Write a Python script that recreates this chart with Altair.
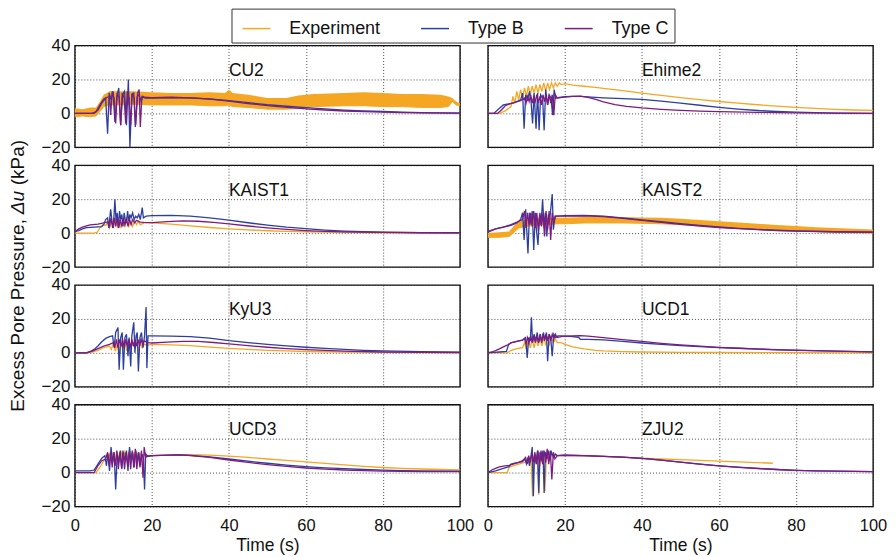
import altair as alt
import pandas as pd

PANELS = ["CU2", "Ehime2", "KAIST1", "KAIST2", "KyU3", "UCD1", "UCD3", "ZJU2"]
SERIES = ["Experiment", "Type B", "Type C"]
COLORS = ["#f5a623", "#2c3f9e", "#7e1b80"]
X_TICKS = [0, 20, 40, 60, 80, 100]
Y_TICKS = [-20, 0, 20, 40]
X_TITLE = "Time (s)"
Y_TITLE_PARTS = ["Excess Pore Pressure,", "Δu", "(kPa)"]

# ---------------- CU2 ----------------
CU2_EXP_BAND = [(0, -2, 3), (2, -1.5, 2.5), (4, -2, 3.5), (5.5, -1.5, 3.5), (6.5, 1, 7), (7.5, 4, 11),
                (9, 5, 13), (12, 5, 13), (15, 5.5, 13), (20, 5, 12.5), (25, 5, 12), (30, 5, 12),
                (35, 4.5, 12.5), (39, 4.5, 12), (40, 5, 14), (41, 4, 12), (45, 3.5, 11), (50, 2.5, 9),
                (55, 2.5, 9), (58, 3, 10.5), (62, 4, 11.5), (70, 4.5, 12), (75, 4.5, 12.5), (80, 4, 12),
                (85, 4, 11.5), (90, 3.5, 11.5), (95, 3.5, 11), (97, 4, 10), (98, 7, 9), (99, 5, 7),
                (100, 4.5, 6)]
CU2_B = [(0, 0), (5, 0), (6, 2), (7, 6), (8, 9), (8.5, -12), (8.9, 12), (9.4, 8), (9.9, 13), (10.4, -5),
         (10.9, 10), (11.4, 15), (11.9, -7), (12.4, 11), (12.9, 13), (13.4, -7), (13.9, 20), (14.3, -20),
         (14.8, 11), (15.3, 12), (15.7, -8), (16.2, 10), (16.7, 11), (17.2, 7), (17.7, 10), (18.2, 9),
         (20, 9), (25, 9.3), (30, 9.2), (35, 8.5), (40, 7.5), (45, 6.3), (50, 5.1), (55, 4.2), (60, 3.4),
         (65, 2.6), (70, 1.9), (75, 1.4), (80, 1.1), (85, 0.8), (90, 0.5), (95, 0.3), (100, 0.2)]
CU2_C = [(0, 0), (4.5, 0), (5.5, 1), (6.5, 5), (7.5, 8.5), (8.5, 9.5), (9.0, 10), (9.3, -1), (9.7, 13),
         (10.2, 9), (10.6, -6), (11.0, 12), (11.5, 9), (11.9, -7), (12.3, 12), (12.8, 9), (13.2, -6),
         (13.6, 13), (14.1, 9), (14.5, -7), (14.9, 12), (15.4, 9), (15.8, -7), (16.3, 12), (16.7, 14),
         (17.0, -8), (17.4, 10), (18, 9.5), (20, 9.3), (25, 9.5), (30, 9.2), (35, 8.4), (40, 7.2),
         (45, 5.8), (50, 4.6), (55, 3.6), (60, 2.7), (65, 2), (70, 1.4), (75, 1), (80, 0.7), (85, 0.5),
         (90, 0.3), (100, 0.1)]

# ---------------- Ehime2 ----------------
EHIME2_EXP = [(0, 0), (3, 0), (4.5, 1.5), (6, 4), (6.5, 10), (7, 6), (7.5, 13), (8, 8), (8.5, 14), (9, 9),
              (9.5, 15), (10, 10), (10.5, 16), (11, 11), (11.5, 16), (12, 12), (12.5, 17), (13, 12),
              (13.5, 17), (14, 13), (14.5, 18), (15, 13), (15.5, 18), (16, 14), (16.5, 18), (17, 15),
              (17.5, 18), (18, 16), (18.5, 18), (19, 17), (20, 17.5), (22, 16.7), (25, 16), (28, 15.3),
              (30, 14.8), (35, 13.4), (40, 12), (45, 10.6), (50, 9.3), (55, 8.1), (60, 7), (65, 6),
              (70, 5.1), (75, 4.3), (80, 3.5), (85, 2.9), (90, 2.4), (95, 2), (100, 1.8)]
EHIME2_B = [(0, 0), (1.5, 0), (3, 3), (4, 5), (5, 5.5), (6.5, 6), (7.5, 7), (8.5, 8), (9.0, 12), (9.4, -9),
            (9.8, 11), (10.3, 8), (10.8, 13), (11.2, 7), (11.6, -6), (12.0, 12), (12.5, -9), (12.9, 12),
            (13.3, -10), (13.7, 11), (14.2, 9), (14.6, -10), (15.0, 14), (15.5, 5), (15.9, 11), (16.4, 9),
            (16.8, -1), (17.2, 14), (17.6, 9), (18.5, 9.5), (20, 9.8), (22, 10), (24, 10), (27, 9.6),
            (30, 9.2), (35, 8.7), (40, 8.2), (45, 7.2), (50, 6.1), (55, 4.8), (60, 3.5), (65, 2.5),
            (70, 1.7), (75, 1.1), (80, 0.7), (85, 0.4), (90, 0.2), (100, 0)]
EHIME2_C = [(0, 0), (2.5, 0), (3.5, 2), (4.5, 4.5), (5.5, 5.5), (7, 6.5), (8.5, 7.5), (9.5, 9), (9.9, 6),
            (10.3, 10), (10.7, 7), (11.1, 11), (11.5, 6), (11.9, 10), (12.3, 7), (12.7, 11), (13.1, 6),
            (13.5, 10), (13.9, 5), (14.3, 11), (14.7, 7), (15.1, 11), (15.5, 5), (15.9, 11), (16.3, 6),
            (16.7, 11), (17.1, -1), (17.5, 11), (18, 9), (19, 9.3), (20, 9.7), (22, 10), (24, 10.2),
            (26, 9.5), (28, 8.2), (30, 6.8), (33, 5.2), (36, 4.1), (40, 3.2), (45, 2.4), (50, 1.8),
            (55, 1.3), (60, 1), (70, 0.6), (80, 0.3), (90, 0.1), (100, 0)]

# ---------------- KAIST1 ----------------
KAIST1_EXP = [(0, 0), (5, 0), (5.8, 0.5), (6.5, 3), (7.2, 5), (8, 4.5), (8.5, 6), (9, 3), (9.5, 7), (10, 4),
              (10.5, 8), (11, 4), (11.5, 8), (12, 3), (12.5, 8), (13, 4), (13.5, 8), (14, 4), (14.5, 7),
              (15, 4), (15.5, 7), (16, 5), (16.5, 7), (17, 5), (18, 6), (20, 6), (25, 5.3), (30, 4.3),
              (35, 3.3), (40, 2.5), (45, 1.9), (50, 1.4), (55, 1), (60, 0.8), (70, 0.4), (80, 0.2),
              (90, 0.1), (100, 0)]
KAIST1_B = [(0, 0.8), (1, 1.5), (2, 2.5), (3, 3.2), (5, 3.5), (7, 3.8), (7.5, 5), (8, 8), (8.5, 9), (8.8, 3),
            (9.3, 14), (9.7, 6), (10.0, 3), (10.4, 20), (10.7, 7), (11.0, 12), (11.3, 3), (11.6, 13),
            (11.9, 8), (12.2, 11), (12.5, 4), (12.8, 12), (13.1, 8), (13.4, 6), (13.7, 13), (14.0, 7),
            (14.3, 11), (14.6, 9), (15.0, 12), (15.4, 8), (15.8, 10), (16.2, 9), (16.6, 11), (17.0, 8),
            (17.5, 15), (17.8, 9), (18.5, 10), (20, 10.3), (25, 10.4), (30, 10), (35, 9), (40, 7.6),
            (45, 6.1), (50, 4.7), (55, 3.5), (60, 2.6), (65, 1.8), (70, 1.2), (75, 0.8), (80, 0.6),
            (90, 0.3), (100, 0.2)]
KAIST1_C = [(0, 0.8), (1, 2.5), (2, 3.5), (3, 4.3), (4, 4.8), (6, 5.3), (7.5, 6), (8.5, 6.5), (9, 4),
            (9.4, 9), (9.8, 3), (10.2, 9), (10.6, 4), (11, 9), (11.4, 3), (11.8, 8), (12.2, 4), (12.6, 9),
            (13, 5), (13.4, 8), (13.8, 4), (14.2, 8), (14.6, 5), (15, 8), (15.5, 6), (16, 7.5), (17, 6.5),
            (18, 6.3), (20, 6.2), (24, 6.8), (28, 7.2), (32, 7), (36, 6.3), (40, 5.4), (45, 4.2), (50, 3.1),
            (55, 2.2), (60, 1.5), (65, 1), (70, 0.7), (80, 0.4), (90, 0.2), (100, 0.1)]

# ---------------- KAIST2 ----------------
KAIST2_EXP_BAND = [(0, -2.5, 0), (3, -2.5, 0.5), (5.5, -2, 1), (7, 1, 5), (8, 3, 7), (10, 4, 8),
                   (12, 4.5, 8.5), (15, 5, 9), (18, 5.5, 9), (20, 5.5, 9), (25, 6, 9.5), (30, 6, 9.5),
                   (35, 6, 9.5), (40, 5.8, 9.2), (45, 5.5, 9), (50, 5, 8.5), (55, 4.5, 7.8), (60, 3.8, 7),
                   (65, 3, 6.2), (70, 2.5, 5.5), (75, 1.8, 4.8), (80, 1.3, 4.2), (85, 0.8, 3.5),
                   (90, 0.5, 3), (95, 0.2, 2.5), (100, 0, 2.2)]
KAIST2_B = [(0, 1), (2, 2.5), (4, 3.5), (6, 4.5), (7.5, 6), (8.5, 8), (9.0, 12), (9.4, -4), (9.8, 14),
            (10.4, -12), (10.8, 12), (11.2, 5), (11.5, 13), (11.9, -10), (12.3, 12), (12.6, 2), (13.0, -7),
            (13.4, 11), (13.8, 5), (14.2, 20), (14.6, 3), (14.9, 12), (15.3, -2), (15.7, 11), (16.1, 9),
            (16.7, 23), (17.0, 2), (17.4, 10), (18, 10), (20, 10.3), (25, 10.4), (30, 10), (35, 9),
            (40, 7.8), (45, 6.7), (50, 5.6), (55, 4.5), (60, 3.6), (65, 2.8), (70, 2.2), (75, 1.7),
            (80, 1.3), (90, 0.8), (100, 0.5)]
KAIST2_C = [(0, 0.5), (2, 2.5), (4, 3.5), (6, 5), (8, 7), (9, 8), (9.5, 13), (9.9, 3), (10.3, 12), (10.7, 5),
            (11.1, 12), (11.5, 4), (11.9, 13), (12.3, 3), (12.7, 12), (13.1, 1), (13.5, 12), (13.9, 4),
            (14.3, 12), (14.7, -2), (15.1, 13), (15.5, 2), (15.9, 13), (16.3, -4), (16.7, 12), (17.1, 6),
            (17.6, 10), (18.5, 10), (20, 10), (25, 10.2), (30, 9.7), (35, 8.7), (40, 7.5), (45, 6.3),
            (50, 5.2), (55, 4.2), (60, 3.3), (65, 2.6), (70, 2), (75, 1.5), (80, 1.2), (90, 0.8), (100, 0.5)]

# ---------------- KyU3 ----------------
KYU3_EXP = [(0, 0), (3, 0), (4.5, 0.5), (6, 1.5), (7.5, 3), (9, 4), (9.5, 2), (10, 6), (10.5, 1), (11, 5),
            (11.5, -2), (12, 5), (12.5, 2), (13, 6), (13.5, 1), (14, 5), (14.5, 2), (15, 6), (15.5, 3),
            (16, 5), (16.5, 2), (17, 6), (17.5, 3), (18, 5), (19, 4.5), (20, 5), (25, 4.7), (30, 4.2),
            (35, 3.4), (40, 2.6), (45, 2), (50, 1.5), (55, 1.1), (60, 0.8), (70, 0.5), (80, 0.3),
            (90, 0.2), (100, 0.1)]
KYU3_B = [(0, 0), (3, 0), (4, 0.8), (5, 2), (6, 4), (7, 6.5), (8, 8.5), (9, 9.5), (9.8, 10), (10.2, 3),
          (10.6, 12), (11.2, 15), (11.5, -10), (11.9, 9), (12.3, 12), (12.6, -10), (13.0, 9), (13.4, 11),
          (13.8, -2), (14.1, 9), (14.5, -8), (14.8, 10), (15.3, 18), (15.6, 0), (15.9, 10), (16.2, 12),
          (16.5, -11), (16.9, 9), (17.3, 12), (17.7, 3), (18.1, 10), (18.5, 27), (18.7, -9), (19, 10),
          (20, 10), (25, 9.9), (30, 9.6), (35, 8.7), (40, 7.2), (45, 6), (50, 5), (55, 4.1), (60, 3.3),
          (65, 2.6), (70, 2), (75, 1.5), (80, 1.2), (90, 0.7), (100, 0.4)]
KYU3_C = [(0, 0), (3, 0), (4.5, 1), (6, 2.5), (7.5, 4), (9, 5), (10, 6), (10.4, 3), (10.8, 8), (11.2, 3),
          (11.6, 8), (12, 4), (12.4, 8), (12.8, 3), (13.2, 8), (13.6, 4), (14, 8), (14.4, 3), (14.8, 8),
          (15.2, 4), (15.6, 8), (16, 4), (16.4, 8), (16.8, 4), (17.2, 8), (17.6, 5), (18, 7), (19, 6),
          (20, 5.8), (24, 6.3), (28, 6.8), (32, 6.7), (36, 6.1), (40, 5.3), (45, 4.2), (50, 3.3),
          (55, 2.5), (60, 1.9), (65, 1.4), (70, 1), (80, 0.5), (90, 0.3), (100, 0.2)]

# ---------------- UCD1 ----------------
UCD1_EXP = [(0, 0), (5, 0), (6, 1.5), (7.5, 2.5), (9, 3), (9.5, 6), (10, 2), (10.5, 7), (11, 3), (11.5, 8),
            (12, 3), (12.5, 8), (13, 4), (13.5, 9), (14, 4), (14.5, 9), (15, 5), (15.5, 9), (16, 5),
            (16.5, 9), (17, 6), (17.5, 8), (18, 6), (19, 6), (20, 5), (22, 3.5), (25, 2.3), (28, 1.5),
            (30, 1.1), (35, 0.7), (40, 0.5), (50, 0.3), (60, 0.2), (80, 0.1), (100, 0)]
UCD1_B = [(0, 0), (1.5, 0.3), (3, 0.5), (4.8, 0.8), (5.4, 5), (6, 6), (7, 6.5), (8, 7), (9, 7.5), (9.8, 9),
          (10.2, -3), (10.6, 9), (11.0, 7), (11.3, 21), (11.6, 6), (12.0, 11), (12.4, 7), (12.8, 12),
          (13.2, 6), (13.6, 11), (14.0, 6), (14.4, 12), (14.8, 8), (15.2, 12), (15.5, -5), (15.9, 11),
          (16.3, 9), (16.7, -2), (17.1, 11), (17.6, 9), (18.2, 10), (19, 10), (20, 9.8), (22, 9.5),
          (23.5, 9.2), (24, 8), (26, 7.9), (30, 7.6), (35, 6.7), (40, 5.8), (45, 5), (50, 4.3), (55, 3.7),
          (60, 3.1), (65, 2.7), (70, 2.3), (75, 1.9), (80, 1.6), (90, 1), (100, 0.6)]
UCD1_C = [(0, 0), (1, 0.5), (2, 1.3), (3, 2.3), (4, 3.5), (5, 4.5), (6, 5.8), (7, 6.5), (8, 7), (9, 7.5),
          (9.5, 8.5), (9.9, 5), (10.3, 9), (10.7, 6), (11.1, 10), (11.5, 6), (11.9, 10), (12.3, 6),
          (12.7, 10), (13.1, 6), (13.5, 10), (13.9, 7), (14.3, 11), (14.7, 7), (15.1, 11), (15.5, 7),
          (15.9, 11), (16.3, 7), (16.7, 11), (17.1, 8), (17.5, 11), (18, 9), (19, 9.5), (20, 9.8),
          (22, 10), (24, 10.1), (26, 9.9), (30, 9), (35, 7.8), (40, 6.7), (45, 5.6), (50, 4.7), (55, 3.9),
          (60, 3.2), (65, 2.7), (70, 2.2), (75, 1.8), (80, 1.5), (90, 1), (100, 0.6)]

# ---------------- UCD3 ----------------
UCD3_EXP = [(0, 0), (5.5, 0), (6.5, 3), (7.5, 7), (8.5, 8), (9, 11), (9.5, 7), (10, 12), (10.5, 7), (11, 12),
            (11.5, 8), (12, 12), (12.5, 8), (13, 12), (13.5, 8), (14, 12), (14.5, 8), (15, 12), (15.5, 9),
            (16, 12), (16.5, 9), (17, 11), (18, 10), (20, 10), (25, 10.4), (30, 10.6), (35, 10.3),
            (40, 9.7), (45, 8.9), (50, 8), (55, 7.2), (60, 6.3), (65, 5.4), (70, 4.5), (75, 3.7), (80, 3),
            (85, 2.5), (90, 2.1), (95, 1.8), (100, 1.6)]
UCD3_B = [(0, 1), (4, 1), (5, 1.5), (6, 5), (7, 8.5), (7.8, 10), (8.2, 4), (8.6, 11), (9.0, 1), (9.4, 15),
          (9.8, 6), (10.2, 12), (10.6, -10), (11.0, 11), (11.4, 6), (11.8, 13), (12.2, 2), (12.6, 12),
          (13.0, 7), (13.4, 13), (13.8, 1), (14.2, 15), (14.6, 7), (15.0, 12), (15.4, 3), (15.8, 13),
          (16.2, 6), (16.6, 12), (17.0, 4), (17.4, 11), (17.8, 8), (18.1, -10), (18.4, 11), (19, 9.5),
          (20, 10), (25, 10.3), (27, 10.4), (30, 10.1), (35, 9.2), (40, 8), (45, 6.7), (50, 5.5),
          (55, 4.4), (60, 3.5), (65, 2.8), (70, 2.3), (75, 1.8), (80, 1.4), (85, 1.1), (90, 1), (100, 0.8)]
UCD3_C = [(0, 0), (5, 0), (6, 4), (7, 7), (8, 8), (8.5, 12), (8.9, 4), (9.3, 12), (9.7, 3), (10.1, 12),
          (10.5, 4), (10.9, 13), (11.3, 2), (11.7, 12), (12.1, 3), (12.5, 13), (12.9, 2), (13.3, 12),
          (13.7, 4), (14.1, 12), (14.5, 2), (14.9, 13), (15.3, 3), (15.7, 14), (16.1, 2), (16.5, 12),
          (16.9, 3), (17.3, 13), (17.7, -3), (18, 15), (18.4, 9), (19, 9.8), (20, 10), (25, 10.3),
          (27, 10.4), (30, 10), (35, 8.9), (40, 7.4), (45, 6), (50, 4.7), (55, 3.6), (60, 2.7), (65, 2),
          (70, 1.5), (75, 1.1), (80, 0.9), (90, 0.6), (100, 0.5)]

# ---------------- ZJU2 ----------------
ZJU2_EXP = [(0, 0), (5, 0), (5.5, 3), (6.5, 4), (8, 5), (9.5, 6), (10.5, 7), (11.2, 8), (11.6, -14),
            (12.0, 10), (12.4, 5), (12.8, 12), (13.2, -13), (13.6, 10), (14.0, 6), (14.4, 12), (14.8, -11),
            (15.2, 11), (15.6, 8), (16, 11), (17, 10), (18, 10), (20, 10), (25, 9.8), (30, 9.5), (35, 9),
            (40, 8.5), (45, 8), (50, 7.6), (55, 7.2), (60, 6.7), (65, 6.3), (70, 5.9), (74, 5.5)]
ZJU2_B = [(0, 0), (2, 1), (4, 2.5), (5.5, 3.5), (6, 5), (7, 5.5), (8, 6), (9, 6.5), (9.6, 8), (10, 5),
          (10.4, 9), (10.8, 4), (11.2, 10), (11.5, 15), (11.8, -14), (12.1, 11), (12.5, 6), (12.9, 13),
          (13.2, -12), (13.5, 12), (13.9, 7), (14.3, 13), (14.6, -12), (14.9, 12), (15.3, 8), (15.7, 13),
          (16.1, 7), (16.5, 12), (17, 9), (17.5, 11), (18, 10), (19, 10.3), (20, 10.3), (25, 10),
          (30, 9.6), (35, 9.1), (40, 8.4), (45, 7.3), (50, 6.1), (55, 5), (60, 4), (65, 3.2), (70, 2.5),
          (75, 1.8), (80, 1.3), (85, 1), (90, 0.8), (100, 0.6)]
ZJU2_C = [(0, 0), (1, 1.5), (2, 2.5), (3, 3.3), (4, 3.8), (5.5, 4.2), (6.5, 5), (8, 6), (9, 7), (9.8, 9),
          (10.2, 5), (10.6, 10), (11, 6), (11.4, 11), (11.8, 6), (12.2, 12), (12.6, 5), (13, 13), (13.4, 4),
          (13.8, 13), (14.2, 5), (14.6, 13), (15, 6), (15.4, 14), (15.8, 5), (16.2, 13), (16.6, -4),
          (17, 12), (17.4, 8), (18, 10), (19, 10), (20, 10.2), (25, 10), (30, 9.6), (35, 9.1), (40, 8.4),
          (45, 7.3), (50, 6.2), (55, 5), (60, 4), (65, 3.1), (70, 2.4), (75, 1.8), (80, 1.3), (85, 1),
          (90, 0.8), (100, 0.6)]

LINES = {
    "CU2": {"Type B": CU2_B, "Type C": CU2_C},
    "Ehime2": {"Experiment": EHIME2_EXP, "Type B": EHIME2_B, "Type C": EHIME2_C},
    "KAIST1": {"Experiment": KAIST1_EXP, "Type B": KAIST1_B, "Type C": KAIST1_C},
    "KAIST2": {"Type B": KAIST2_B, "Type C": KAIST2_C},
    "KyU3": {"Experiment": KYU3_EXP, "Type B": KYU3_B, "Type C": KYU3_C},
    "UCD1": {"Experiment": UCD1_EXP, "Type B": UCD1_B, "Type C": UCD1_C},
    "UCD3": {"Experiment": UCD3_EXP, "Type B": UCD3_B, "Type C": UCD3_C},
    "ZJU2": {"Experiment": ZJU2_EXP, "Type B": ZJU2_B, "Type C": ZJU2_C},
}
BANDS = {"CU2": CU2_EXP_BAND, "KAIST2": KAIST2_EXP_BAND}

FONT = "Liberation Sans"
TXT = "#111111"
PW, PH = 386, 102

LEGEND = alt.Legend(
    title=None, orient="none", legendX=157, legendY=-37, direction="horizontal", columns=3,
    symbolType="stroke", symbolSize=784, symbolStrokeWidth=1.5, labelFont=FONT, labelFontSize=18,
    labelColor=TXT, labelOffset=18, columnPadding=34, padding=5, symbolOffset=5, strokeColor="#333333",
    fillColor="white", cornerRadius=0,
)
COLOR_SCALE = alt.Scale(domain=SERIES, range=COLORS)


def make_panel(i, name):
    row, col = divmod(i, 2)
    bottom = row == 3
    left = col == 0
    xs = alt.Scale(domain=[0, 100], nice=False, zero=False)
    ys = alt.Scale(domain=[-20, 40], nice=False, zero=False)
    xax = alt.Axis(values=X_TICKS, labels=bottom, title=X_TITLE if bottom else None, format="d")
    yax = alt.Axis(values=Y_TICKS, labels=left, title=None, format="d")
    layers = []
    if name in BANDS:
        bdf = pd.DataFrame(BANDS[name], columns=["t", "lo", "hi"])
        layers.append(
            alt.Chart(bdf).mark_area(color=COLORS[0], opacity=1, line={"color": COLORS[0], "strokeWidth": 1})
            .encode(x=alt.X("t:Q", scale=xs, axis=xax), y=alt.Y("lo:Q", scale=ys, axis=yax), y2="hi:Q")
        )
    for s in SERIES:
        if s in LINES[name]:
            df = pd.DataFrame(LINES[name][s], columns=["t", "u"])
            df["series"] = s
            df["idx"] = range(len(df))
            layers.append(
                alt.Chart(df).mark_line(strokeWidth=1.3)
                .encode(
                    x=alt.X("t:Q", scale=xs, axis=xax),
                    y=alt.Y("u:Q", scale=ys, axis=yax),
                    color=alt.Color("series:N", scale=COLOR_SCALE, legend=LEGEND),
                    order="idx:Q",
                )
            )
    ldf = pd.DataFrame({"t": [40], "u": [25], "name": [name]})
    layers.append(
        alt.Chart(ldf).mark_text(align="left", baseline="middle", font=FONT, fontSize=17.5, color=TXT)
        .encode(x=alt.X("t:Q", scale=xs, axis=xax), y=alt.Y("u:Q", scale=ys, axis=yax), text="name:N")
    )
    if i == 2:
        dummy = pd.DataFrame({"a": [0]})
        fs = 19
        bottom_y = 247
        offs = [0, 198, 227]
        styles = ["normal", "italic", "normal"]
        for part, off, st in zip(Y_TITLE_PARTS, offs, styles):
            layers.append(
                alt.Chart(dummy).mark_text(angle=270, align="left", baseline="alphabetic", font=FONT,
                                           fontSize=fs, fontStyle=st, color=TXT)
                .encode(x=alt.value(-50.5), y=alt.value(bottom_y - off), text=alt.value(part))
            )
    return alt.layer(*layers).properties(width=PW, height=PH)


panels = [make_panel(i, n) for i, n in enumerate(PANELS)]

chart = (
    alt.concat(*panels, columns=2, spacing={"row": 18, "column": 28}, bounds="flush")
    .resolve_scale(color="shared")
    .properties(padding={"left": 0, "top": -1, "right": 0, "bottom": 0}, background="white")
    .configure_view(stroke="#111111", strokeWidth=1.4)
    .configure_axis(
        labelFont=FONT, labelFontSize=17, labelColor=TXT, titleFont=FONT, titleFontSize=17.5,
        titleColor=TXT, titleFontWeight="normal", domain=False, ticks=False, grid=True,
        gridColor="#222222", gridDash=[1, 2], gridWidth=0.8, labelFlush=False, labelOverlap=False,
    )
    .configure_axisX(labelPadding=11, titlePadding=3, labelFontSize=16.5)
    .configure_axisY(labelPadding=5)
)

chart.save("out.html", embed_options={"renderer": "svg", "actions": False})
